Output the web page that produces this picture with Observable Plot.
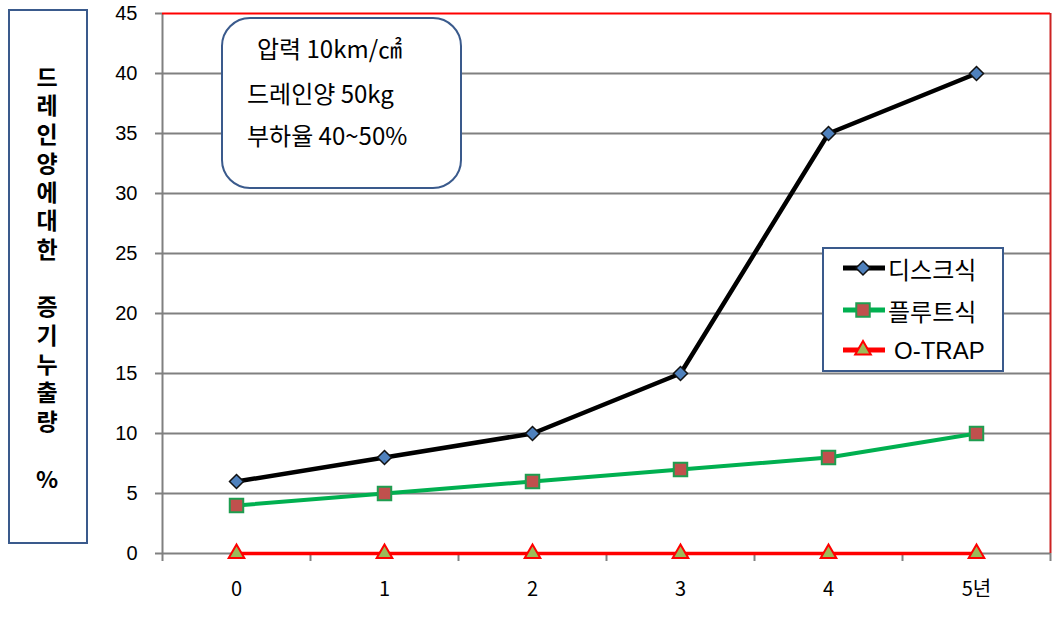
<!DOCTYPE html>
<html><head><meta charset="utf-8">
<script src="https://cdn.jsdelivr.net/npm/d3@7"></script>
<script src="https://cdn.jsdelivr.net/npm/@observablehq/plot@0.6"></script>
<style>body{margin:0;background:#fff} #chart{position:relative;width:1060px;height:618px}
.vt{writing-mode:vertical-rl;text-orientation:upright;}</style>
</head><body><div id="chart"></div>
<script>
const years = ["0", "1", "2", "3", "4", "5년"];
const disc = [6, 8, 10, 15, 35, 40];
const flute = [4, 5, 6, 7, 8, 10];
const otrap = [0, 0, 0, 0, 0, 0];
const seriesNames = ["디스크식", "플루트식", "O-TRAP"];
const yTicks = [0, 5, 10, 15, 20, 25, 30, 35, 40, 45];
const yTitleParts = ["드레인양에대한", "증기누출량", "%"];
const noteLines = ["압력 10km/㎠", "드레인양 50kg", "부하율 40~50%"];

const seriesValues = [disc, flute, otrap];
const rows = seriesNames.flatMap((s, k) => seriesValues[k].map((v, i) => ({series: s, i, v})));
const of = s => rows.filter(d => d.series === s);

const styles = {
  "디스크식": {line: "#000000", lw: 4.5, symbol: "diamond2", r: 6.3, fill: "#4f81bd", stroke: "#111111", sw: 1.5},
  "플루트식": {line: "#00b050", lw: 4, symbol: "square", r: 7.6, fill: "#c0504d", stroke: "#1e9e50", sw: 2},
  "O-TRAP": {line: "#ff0000", lw: 3.5, symbol: "triangle", r: 5.8, fill: "#9bbb59", stroke: "#ff0000", sw: 2}
};
const drawOrder = ["O-TRAP", "플루트식", "디스크식"];
const digitFont = "'Liberation Sans', Arial, sans-serif";
const krFont = "'Noto Sans CJK KR', sans-serif";

const plot = Plot.plot({
  width: 1060, height: 618,
  marginLeft: 162, marginRight: 10, marginTop: 13, marginBottom: 65,
  style: {fontFamily: krFont, background: "white", color: "black", overflow: "visible"},
  x: {type: "linear", domain: [-0.5, years.length - 0.5]},
  y: {domain: [0, 45]},
  marks: [
    Plot.gridY(yTicks.filter(t => t > 0 && t < 45), {stroke: "#808080", strokeOpacity: 1, strokeWidth: 2}),
    Plot.ruleY([0], {stroke: "#808080", strokeWidth: 2}),
    Plot.ruleX([-0.5], {stroke: "#808080", strokeWidth: 2}),
    Plot.ruleY([45], {stroke: "#ff0000", strokeWidth: 2}),
    Plot.ruleX([years.length - 0.5], {stroke: "#cc2222", strokeWidth: 2}),
    Plot.axisY({ticks: yTicks, tickSize: 7, tickPadding: 18, stroke: "#808080", strokeWidth: 2, fill: "black", fontSize: 20, fontFamily: digitFont, label: null}),
    Plot.axisX({ticks: d3.range(years.length + 1).map(i => i - 0.5), tickSize: 8, tickFormat: () => "", stroke: "#808080", strokeWidth: 2, label: null}),
    Plot.axisX({ticks: d3.range(years.length), tickSize: 0, tickPadding: 28, tickFormat: i => years[i], fill: "black", fontSize: 20, fontFamily: krFont, label: null}),
    ...drawOrder.map(s => Plot.line(of(s), {x: "i", y: "v", stroke: styles[s].line, strokeWidth: styles[s].lw})),
    ...drawOrder.map(s => Plot.dot(of(s), {x: "i", y: "v", symbol: styles[s].symbol, r: styles[s].r, fill: styles[s].fill, stroke: styles[s].stroke, strokeWidth: styles[s].sw}))
  ]
});
document.getElementById("chart").appendChild(plot);

const svg = d3.select(plot);
const boxStroke = "#3a5a8c";

// y-axis title box: vertical stacked characters
svg.append("rect").attr("x", 9).attr("y", 10).attr("width", 78).attr("height", 533)
  .attr("fill", "white").attr("stroke", boxStroke).attr("stroke-width", 2);
const step = 28.7, fsz = 23;
let slot = 0;
yTitleParts.forEach(part => {
  svg.append("text").attr("class", "vt")
    .attr("x", 47).attr("y", 77 + slot * step - fsz / 2)
    .attr("text-anchor", "start").attr("dominant-baseline", "central")
    .attr("font-family", krFont).attr("font-weight", "bold").attr("font-size", fsz)
    .attr("letter-spacing", step - fsz).attr("fill", "black").text(part);
  slot += [...part].length + 1;
});

// note box
svg.append("rect").attr("x", 222).attr("y", 18).attr("width", 239).attr("height", 170).attr("rx", 28)
  .attr("fill", "white").attr("stroke", boxStroke).attr("stroke-width", 2);
const noteX = [257, 247, 247], noteY = [47, 92, 134];
noteLines.forEach((t, k) => {
  svg.append("text").attr("x", noteX[k]).attr("y", noteY[k]).attr("dominant-baseline", "central")
    .attr("text-anchor", "start").attr("font-family", krFont)
    .attr("font-size", 24).attr("fill", "black").text(t);
});

// legend box
svg.append("rect").attr("x", 823).attr("y", 248).attr("width", 180).attr("height", 123)
  .attr("fill", "white").attr("stroke", boxStroke).attr("stroke-width", 2);
const legY = [268, 310, 350];
const symMap = {diamond2: d3.symbolDiamond2, square: d3.symbolSquare, triangle: d3.symbolTriangle};
seriesNames.forEach((s, k) => {
  const st = styles[s];
  svg.append("line").attr("x1", 843).attr("x2", 885).attr("y1", legY[k]).attr("y2", legY[k])
    .attr("stroke", st.line).attr("stroke-width", 5);
  svg.append("path").attr("transform", `translate(863,${legY[k]})`)
    .attr("d", d3.symbol(symMap[st.symbol], st.r * st.r * Math.PI)())
    .attr("fill", st.fill).attr("stroke", st.stroke).attr("stroke-width", st.sw);
  const latin = /^[A-Za-z\-]+$/.test(s);
  svg.append("text").attr("x", latin ? 894 : 888).attr("y", legY[k]).attr("dominant-baseline", "central")
    .attr("text-anchor", "start").attr("font-size", 24).attr("fill", "black")
    .attr("font-family", latin ? digitFont : krFont)
    .text(s);
});
</script>
</body></html>
